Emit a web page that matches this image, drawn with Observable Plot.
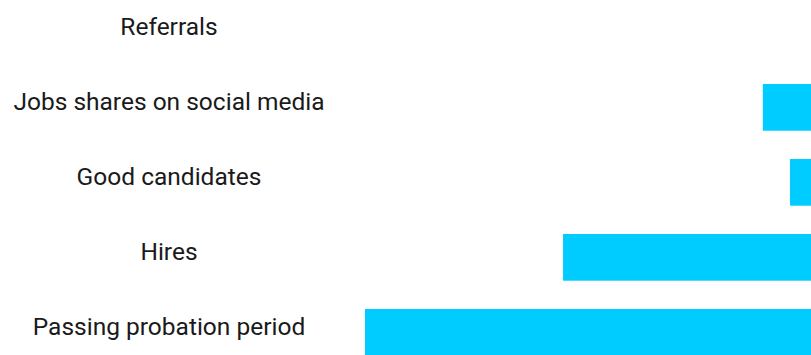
<!DOCTYPE html>
<html>
<head>
<meta charset="utf-8">
<script src="https://cdn.jsdelivr.net/npm/d3@7"></script>
<script src="https://cdn.jsdelivr.net/npm/@observablehq/plot@0.6"></script>
<style>
  html, body { margin: 0; padding: 0; background: #fff; }
  #chart svg { display: block; }
</style>
</head>
<body>
<div id="chart"></div>
<script>
const categories = ["Referrals", "Jobs shares on social media", "Good candidates", "Hires", "Passing probation period"];
const values = [0, 10.8, 4.7, 55.6, 100];

const data = categories.map((c, i) => ({category: c, value: values[i]}));

const chart = Plot.plot({
  width: 811,
  height: 355,
  marginLeft: 0,
  marginRight: 0,
  marginTop: 0,
  marginBottom: 0,
  style: {fontFamily: "Roboto, sans-serif", background: "#fff"},
  x: {domain: [0, 100], range: [811, 365], axis: null},
  y: {domain: categories, range: [9, 355.7], paddingInner: 0.377, paddingOuter: 0, round: false, axis: null},
  marks: [
    Plot.barX(data, {x1: 0, x2: "value", y: "category", fill: "#00ccff", insetTop: 0, insetBottom: 0}),
    Plot.text(data, {y: "category", text: "category", frameAnchor: "left", dx: 168.5, dy: -6, textAnchor: "middle", fontSize: 24.5, fill: "#1a1a1a"})
  ]
});
document.getElementById("chart").appendChild(chart);
</script>
</body>
</html>
